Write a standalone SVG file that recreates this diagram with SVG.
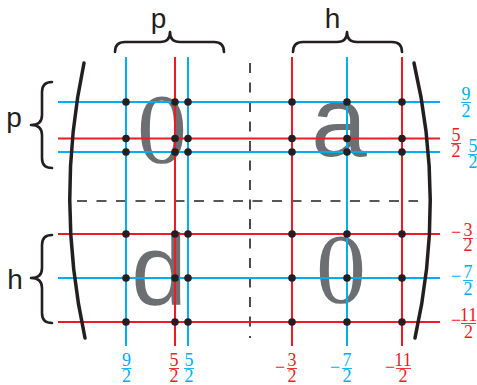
<svg xmlns="http://www.w3.org/2000/svg" width="477" height="385" viewBox="0 0 477 385">
<style>
.b{stroke:#00aeef;stroke-width:2;fill:none}
.r{stroke:#ed1c24;stroke-width:2;fill:none}
.dash{stroke:#231f20;stroke-width:1.6;stroke-dasharray:10 9.5;fill:none}
.par{stroke:#231f20;stroke-width:3.5;fill:none;stroke-linecap:round}
.brace{stroke:#231f20;stroke-width:2.6;fill:none;stroke-linecap:round;stroke-linejoin:round}
.big0{font-family:"Liberation Serif",serif;font-size:100px;fill:#6d6e71;text-anchor:middle}
.bigs{font-family:"Liberation Sans",sans-serif;font-size:100px;fill:#6d6e71;text-anchor:middle}
.lbl{font-family:"Liberation Sans",sans-serif;font-size:28px;fill:#231f20;text-anchor:middle}
.fr{font-family:"Liberation Serif",serif;font-size:18px;text-anchor:middle}
.fb{fill:#00aeef}
.fR{fill:#ed1c24}
.barb{stroke:#00aeef;stroke-width:0.9}
.barr{stroke:#ed1c24;stroke-width:0.9}
.dot{fill:#231f20}
</style>
<defs>
<circle id="d" r="3.8" class="dot"/>
</defs>

<g id="entries">
<text class="big0" x="162" y="162">0</text>
<text class="bigs" x="339" y="156">a</text>
<text class="bigs" x="159" y="305">d</text>
<text class="big0" x="341" y="302">0</text>
</g>

<g id="connectors">
<line class="dash" x1="250" y1="63" x2="250" y2="338"/>
<line class="dash" x1="77" y1="201" x2="418" y2="201"/>
<line class="b" x1="58" y1="102" x2="440" y2="102"/>
<line class="r" x1="58" y1="138.5" x2="440" y2="138.5"/>
<line class="b" x1="58" y1="152" x2="440" y2="152"/>
<line class="r" x1="58" y1="234" x2="440" y2="234"/>
<line class="b" x1="58" y1="278" x2="440" y2="278"/>
<line class="r" x1="58" y1="322" x2="440" y2="322"/>
<line class="b" x1="126" y1="57" x2="126" y2="346"/>
<line class="r" x1="175" y1="57" x2="175" y2="346"/>
<line class="b" x1="188" y1="57" x2="188" y2="346"/>
<line class="r" x1="292" y1="57" x2="292" y2="346"/>
<line class="b" x1="347" y1="57" x2="347" y2="346"/>
<line class="r" x1="402" y1="57" x2="402" y2="346"/>
</g>

<g id="dots">
<use href="#d" x="126" y="102"/><use href="#d" x="175" y="102"/><use href="#d" x="188" y="102"/>
<use href="#d" x="126" y="138.5"/><use href="#d" x="175" y="138.5"/><use href="#d" x="188" y="138.5"/>
<use href="#d" x="126" y="152"/><use href="#d" x="175" y="152"/><use href="#d" x="188" y="152"/>
<use href="#d" x="292" y="102"/><use href="#d" x="347" y="102"/><use href="#d" x="402" y="102"/>
<use href="#d" x="292" y="138.5"/><use href="#d" x="347" y="138.5"/><use href="#d" x="402" y="138.5"/>
<use href="#d" x="292" y="152"/><use href="#d" x="347" y="152"/><use href="#d" x="402" y="152"/>
<use href="#d" x="126" y="234"/><use href="#d" x="175" y="234"/><use href="#d" x="188" y="234"/>
<use href="#d" x="126" y="278"/><use href="#d" x="175" y="278"/><use href="#d" x="188" y="278"/>
<use href="#d" x="126" y="322"/><use href="#d" x="175" y="322"/><use href="#d" x="188" y="322"/>
<use href="#d" x="292" y="234"/><use href="#d" x="347" y="234"/><use href="#d" x="402" y="234"/>
<use href="#d" x="292" y="278"/><use href="#d" x="347" y="278"/><use href="#d" x="402" y="278"/>
<use href="#d" x="292" y="322"/><use href="#d" x="347" y="322"/><use href="#d" x="402" y="322"/>
</g>

<g id="parens">
<path class="par" d="M84,63 Q55,200 85,338"/>
<path class="par" d="M414,63 Q446,200 415,338"/>
</g>

<g id="braces">
<path class="brace" d="M115,52 Q115,42 125,42 L160,42 Q170,42 170,32 Q170,42 180,42 L214,42 Q224,42 224,52"/>
<path class="brace" d="M293,52 Q293,42 303,42 L337,42 Q347,42 347,32 Q347,42 357,42 L392,42 Q402,42 402,52"/>
<path class="brace" d="M52,82 Q42,82 42,92 L42,115 Q42,125 31,125 Q42,125 42,135 L42,158 Q42,168 52,168"/>
<path class="brace" d="M52,235 Q42,235 42,245 L42,268 Q42,278 31,278 Q42,278 42,288 L42,313 Q42,323 52,323"/>
</g>

<g id="labels">
<text class="lbl" x="158.5" y="27.5">p</text>
<text class="lbl" x="332.5" y="28">h</text>
<text class="lbl" x="14" y="127">p</text>
<text class="lbl" x="15" y="289">h</text>
</g>

<g id="row-fractions">
<text class="fr fb" x="466" y="100">9</text><line class="barb" x1="461" y1="102.5" x2="471" y2="102.5"/><text class="fr fb" x="466" y="117">2</text>
<text class="fr fR" x="456" y="141">5</text><line class="barr" x1="451" y1="143.5" x2="461" y2="143.5"/><text class="fr fR" x="456" y="157">2</text>
<text class="fr fb" x="473" y="152">5</text><line class="barb" x1="468" y1="154.5" x2="478" y2="154.5"/><text class="fr fb" x="473" y="168">2</text>
<text class="fr fR" x="456" y="238">−</text>
<text class="fr fR" x="468" y="236">3</text><line class="barr" x1="463" y1="238.5" x2="473" y2="238.5"/><text class="fr fR" x="468" y="251">2</text>
<text class="fr fb" x="456" y="282">−</text>
<text class="fr fb" x="468" y="278">7</text><line class="barb" x1="463" y1="280.5" x2="473" y2="280.5"/><text class="fr fb" x="468" y="295">2</text>
<text class="fr fR" x="456" y="326">−</text>
<text class="fr fR" x="468.5" y="321">11</text><line class="barr" x1="461" y1="323.5" x2="476" y2="323.5"/><text class="fr fR" x="468.5" y="338">2</text>
</g>

<g id="col-fractions">
<text class="fr fb" x="126.5" y="366">9</text><line class="barb" x1="121.5" y1="368.5" x2="131.5" y2="368.5"/><text class="fr fb" x="126.5" y="382">2</text>
<text class="fr fR" x="174" y="366">5</text><line class="barr" x1="169" y1="368.5" x2="179" y2="368.5"/><text class="fr fR" x="174" y="382">2</text>
<text class="fr fb" x="189" y="366">5</text><line class="barb" x1="184" y1="368.5" x2="194" y2="368.5"/><text class="fr fb" x="189" y="382">2</text>
<text class="fr fR" x="280" y="373">−</text>
<text class="fr fR" x="292" y="366">3</text><line class="barr" x1="287" y1="368.5" x2="297" y2="368.5"/><text class="fr fR" x="292" y="382">2</text>
<text class="fr fb" x="335" y="373">−</text>
<text class="fr fb" x="347" y="366">7</text><line class="barb" x1="342" y1="368.5" x2="352" y2="368.5"/><text class="fr fb" x="347" y="382">2</text>
<text class="fr fR" x="390" y="373">−</text>
<text class="fr fR" x="403" y="366">11</text><line class="barr" x1="396" y1="368.5" x2="411" y2="368.5"/><text class="fr fR" x="403" y="382">2</text>
</g>
</svg>
